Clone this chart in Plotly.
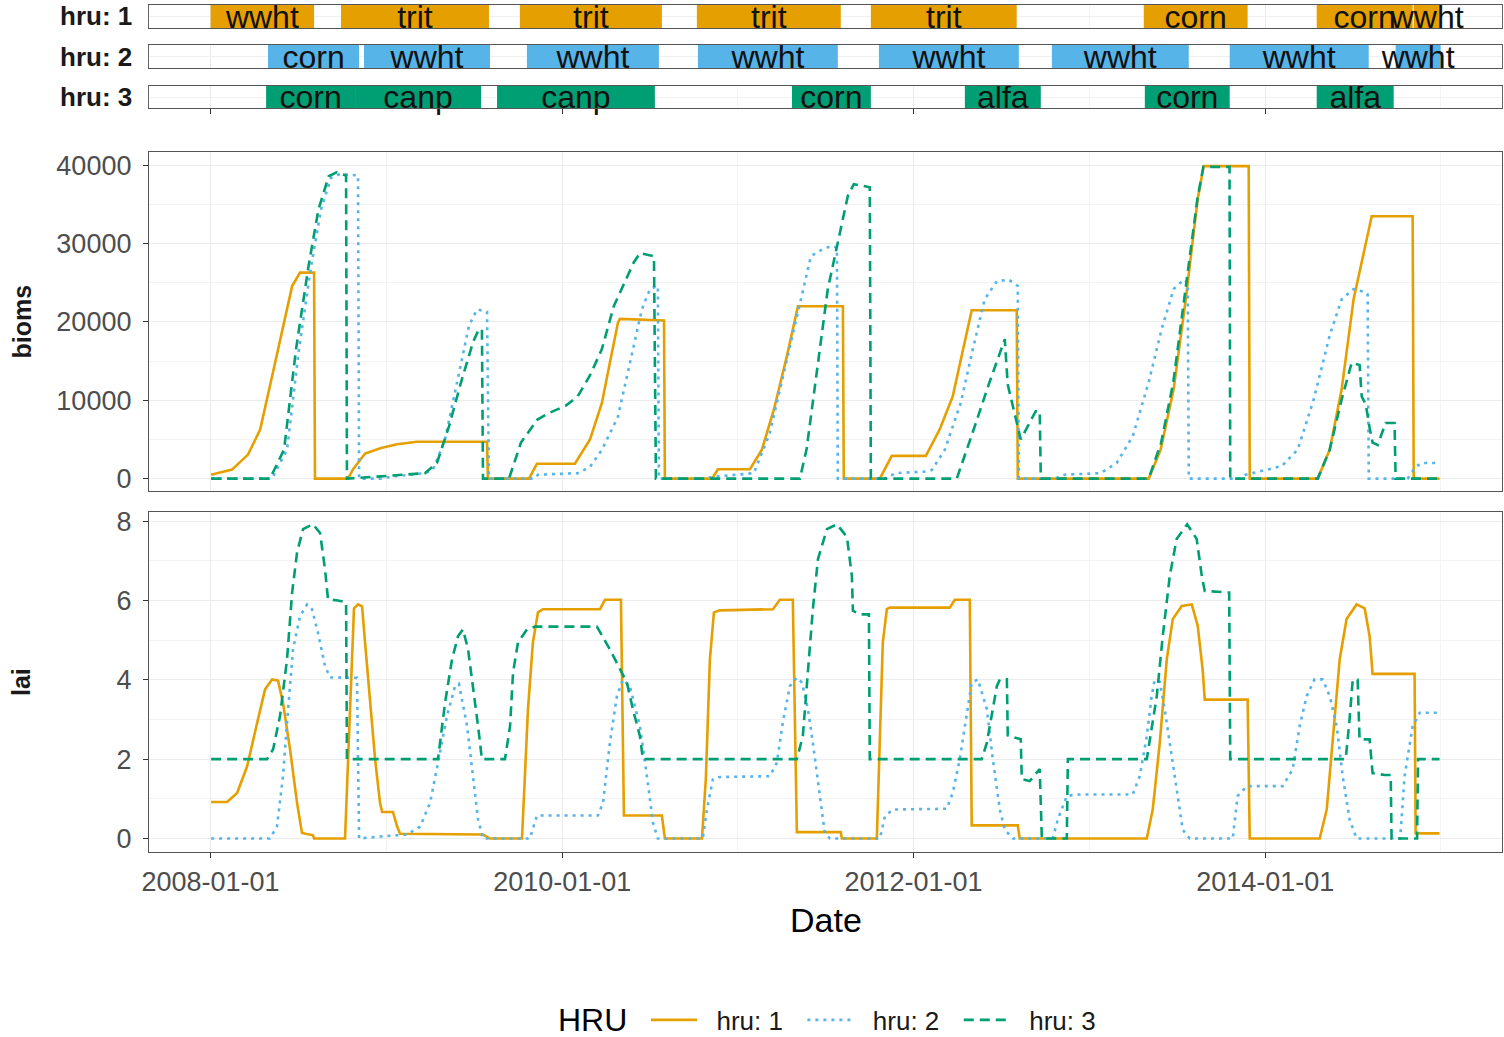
import pandas as pd
import plotly.graph_objects as go

# ---------------- data (dates as decimal years) ----------------
hru1_crop  = ["wwht", "trit", "trit", "trit", "trit", "corn", "corn", "wwht"]
hru1_start = [2008.000, 2008.742, 2009.760, 2010.767, 2011.757, 2013.310, 2014.294, 2014.846]
hru1_end   = [2008.589, 2009.584, 2010.568, 2011.586, 2012.587, 2013.901, 2014.840, 2014.999]

hru2_crop  = ["corn", "wwht", "wwht", "wwht", "wwht", "wwht", "wwht", "wwht"]
hru2_start = [2008.327, 2008.873, 2009.800, 2010.773, 2011.803, 2012.787, 2013.799, 2014.743]
hru2_end   = [2008.845, 2009.590, 2010.551, 2011.569, 2012.599, 2013.566, 2014.590, 2014.999]

hru3_crop  = ["corn", "canp", "canp", "corn", "alfa", "corn", "alfa"]
hru3_start = [2008.316, 2008.822, 2009.630, 2011.308, 2012.292, 2013.316, 2014.294]
hru3_end   = [2008.822, 2009.539, 2010.528, 2011.757, 2012.724, 2013.799, 2014.732]

hru1_bioms_t = [2008.003, 2008.122, 2008.213, 2008.282, 2008.350, 2008.418, 2008.464, 2008.509, 2008.589, 2008.594,
                2008.782, 2008.811, 2008.879, 2008.970, 2009.061, 2009.175, 2009.573, 2009.578,
                2009.812, 2009.857, 2010.073, 2010.159, 2010.227, 2010.272, 2010.318, 2010.329, 2010.580, 2010.585,
                2010.853, 2010.887, 2011.069, 2011.137, 2011.205, 2011.279, 2011.342, 2011.598, 2011.603,
                2011.808, 2011.876, 2012.070, 2012.149, 2012.223, 2012.280, 2012.331, 2012.587, 2012.593,
                2013.338, 2013.406, 2013.480, 2013.549, 2013.617, 2013.651, 2013.907, 2013.913,
                2014.300, 2014.368, 2014.436, 2014.504, 2014.607, 2014.840, 2014.846, 2014.993]
hru1_bioms = [500, 1150, 3070, 6260, 13070, 19900, 24580, 26300, 26300, 0,
              0, 1200, 3200, 3900, 4400, 4700, 4700, 0,
              0, 1900, 1900, 5000, 9700, 14800, 19900, 20400, 20200, 0,
              0, 1200, 1200, 3700, 8800, 15600, 22000, 22000, 0,
              0, 2900, 2900, 6300, 10500, 16500, 21500, 21500, 0,
              0, 3700, 11400, 22900, 35700, 39900, 39900, 0,
              0, 3700, 11400, 22900, 33500, 33500, 0, 0]

hru2_bioms_t = [2008.003, 2008.350, 2008.435, 2008.503, 2008.572, 2008.629, 2008.685, 2008.737, 2008.839, 2008.845,
                2008.964, 2009.049, 2009.220, 2009.266, 2009.334, 2009.402, 2009.470, 2009.516, 2009.573, 2009.584,
                2009.840, 2009.863, 2010.090, 2010.159, 2010.227, 2010.318, 2010.386, 2010.454, 2010.500, 2010.545, 2010.551,
                2010.784, 2010.898, 2011.091, 2011.182, 2011.279, 2011.347, 2011.416, 2011.484, 2011.535, 2011.564, 2011.569,
                2011.837, 2011.899, 2012.064, 2012.104, 2012.178, 2012.269, 2012.337, 2012.405, 2012.474, 2012.542, 2012.593, 2012.599,
                2012.804, 2012.860, 2013.065, 2013.156, 2013.247, 2013.338, 2013.412, 2013.480, 2013.537, 2013.560, 2013.566,
                2013.856, 2013.890, 2013.981, 2014.095, 2014.186, 2014.277, 2014.368, 2014.436, 2014.504, 2014.573, 2014.584, 2014.590,
                2014.811, 2014.857, 2014.891, 2014.993]
hru2_bioms = [0, 0, 3700, 16500, 27100, 34400, 38400, 38900, 38700, 0,
              0, 300, 700, 1150, 5000, 12300, 19500, 21600, 21300, 0,
              0, 500, 700, 1500, 3700, 7900, 14800, 21600, 24200, 24600, 0,
              0, 300, 700, 5800, 15300, 21600, 28400, 29300, 29700, 29500, 0,
              0, 700, 900, 1100, 3700, 9700, 16500, 22900, 25200, 25400, 24600, 0,
              0, 500, 700, 2000, 5400, 12300, 19100, 24200, 25400, 25000, 0,
              0, 500, 1000, 1600, 3700, 10100, 18300, 22900, 24200, 23800, 23500, 0,
              0, 1500, 2000, 2000]

hru3_bioms_t = [2008.003, 2008.338, 2008.418, 2008.486, 2008.557, 2008.614, 2008.672, 2008.717, 2008.771, 2008.776,
                2009.038, 2009.220, 2009.288, 2009.357, 2009.425, 2009.493, 2009.527, 2009.544, 2009.550,
                2009.698, 2009.766, 2009.860, 2009.928, 2010.020, 2010.089, 2010.157, 2010.226, 2010.294, 2010.363,
                2010.408, 2010.443, 2010.523, 2010.534,
                2011.353, 2011.391, 2011.459, 2011.512, 2011.581, 2011.626, 2011.660, 2011.717, 2011.751, 2011.757,
                2012.246, 2012.335, 2012.426, 2012.519, 2012.536, 2012.610, 2012.695, 2012.718, 2012.724,
                2013.338, 2013.409, 2013.478, 2013.546, 2013.615, 2013.649, 2013.798, 2013.802,
                2014.300, 2014.368, 2014.436, 2014.493, 2014.538, 2014.550, 2014.573, 2014.595, 2014.612, 2014.641,
                2014.686, 2014.737, 2014.743, 2014.993]
hru3_bioms = [0, 0, 3700, 16500, 27100, 34400, 38600, 39100, 38700, 0,
              400, 700, 2000, 6700, 12300, 17400, 19100, 19000, 0,
              0, 4600, 7550, 8400, 9300, 10500, 13100, 16500, 22000, 25400,
              27600, 28800, 28400, 0,
              0, 3700, 15300, 24200, 31400, 36100, 37600, 37400, 37200, 0,
              0, 5800, 11900, 17800, 12000, 5000, 8600, 8600, 0,
              0, 4600, 12300, 23800, 35700, 39800, 39800, 0,
              0, 3700, 10100, 14800, 14500, 10500, 9500, 6500, 4600, 4300,
              7100, 7100, 0, 0]

hru1_lai_t = [2008.003, 2008.094, 2008.151, 2008.208, 2008.265, 2008.310, 2008.350, 2008.384, 2008.412, 2008.452,
              2008.492, 2008.520, 2008.583, 2008.589, 2008.765, 2008.788, 2008.816, 2008.839, 2008.862, 2008.879,
              2008.907, 2008.936, 2008.964, 2008.976, 2009.038, 2009.061, 2009.078, 2009.550, 2009.590, 2009.772,
              2009.806, 2009.834, 2009.863, 2009.891, 2010.216, 2010.244, 2010.335, 2010.352, 2010.568, 2010.585,
              2010.796, 2010.818, 2010.841, 2010.864, 2010.898, 2011.200, 2011.239, 2011.313, 2011.336, 2011.586,
              2011.592, 2011.791, 2011.825, 2011.848, 2011.865, 2012.206, 2012.235, 2012.320, 2012.331, 2012.593,
              2012.604, 2013.327, 2013.361, 2013.401, 2013.441, 2013.475, 2013.526, 2013.583, 2013.617, 2013.645,
              2013.657, 2013.901, 2013.913, 2014.311, 2014.351, 2014.385, 2014.425, 2014.464, 2014.521, 2014.567,
              2014.595, 2014.612, 2014.851, 2014.857, 2014.993]
hru1_lai = [0.92, 0.92, 1.15, 1.82, 2.92, 3.76, 4.01, 3.98, 3.42, 2.25,
            0.9, 0.14, 0.08, 0.0, 0.0, 2.5, 5.8, 5.9, 5.85, 4.94,
            3.59, 2.0, 0.9, 0.67, 0.67, 0.31, 0.12, 0.1, 0.0, 0.0,
            3.26, 4.94, 5.7, 5.78, 5.78, 6.02, 6.02, 0.58, 0.58, 0.0,
            0.0, 1.5, 4.5, 5.7, 5.75, 5.78, 6.02, 6.02, 0.16, 0.16,
            0.0, 0.0, 4.94, 5.78, 5.82, 5.82, 6.02, 6.02, 0.33, 0.33,
            0.0, 0.0, 0.73, 2.41, 4.52, 5.53, 5.86, 5.9, 5.36, 4.26,
            3.5, 3.5, 0.0, 0.0, 0.73, 2.41, 4.52, 5.53, 5.9, 5.8,
            5.1, 4.15, 4.15, 0.13, 0.13]

hru2_lai_t = [2008.003, 2008.338, 2008.378, 2008.412, 2008.441, 2008.469, 2008.509, 2008.549, 2008.577, 2008.611,
              2008.651, 2008.680, 2008.833, 2008.845, 2008.964, 2009.118, 2009.192, 2009.249, 2009.294, 2009.345,
              2009.391, 2009.413, 2009.459, 2009.493, 2009.522, 2009.550, 2009.817, 2009.857, 2010.204, 2010.233,
              2010.272, 2010.312, 2010.346, 2010.386, 2010.443, 2010.483, 2010.517, 2010.545, 2010.801, 2010.824,
              2010.858, 2010.898, 2011.182, 2011.222, 2011.256, 2011.296, 2011.336, 2011.365, 2011.399, 2011.427,
              2011.467, 2011.495, 2011.524, 2011.808, 2011.837, 2011.882, 2012.189, 2012.223, 2012.263, 2012.303,
              2012.331, 2012.366, 2012.417, 2012.451, 2012.491, 2012.519, 2012.565, 2012.792, 2012.821, 2012.872,
              2012.929, 2013.247, 2013.287, 2013.327, 2013.355, 2013.372, 2013.401, 2013.429, 2013.458, 2013.497,
              2013.532, 2013.571, 2013.816, 2013.844, 2013.896, 2014.100, 2014.157, 2014.197, 2014.237, 2014.282,
              2014.328, 2014.368, 2014.408, 2014.442, 2014.481, 2014.521, 2014.769, 2014.794, 2014.840, 2014.880,
              2014.993]
hru2_lai = [0.0, 0.0, 0.31, 1.57, 3.26, 4.77, 5.61, 5.9, 5.78, 5.19,
            4.35, 4.06, 4.05, 0.0, 0.05, 0.1, 0.3, 0.9, 1.91, 3.09,
            3.84, 3.9, 2.85, 1.57, 0.48, 0.0, 0.0, 0.58, 0.58, 0.9,
            2.41, 3.59, 4.01, 3.84, 2.83, 1.57, 0.4, 0.0, 0.0, 0.73,
            1.49, 1.55, 1.57, 1.91, 2.92, 3.84, 4.06, 3.93, 3.26, 2.41,
            1.15, 0.14, 0.0, 0.0, 0.56, 0.73, 0.75, 1.15, 2.0, 3.09,
            3.93, 4.01, 3.26, 2.0, 0.73, 0.22, 0.0, 0.0, 0.48, 1.07,
            1.11, 1.11, 1.57, 2.58, 3.59, 4.0, 3.95, 3.26, 2.41, 1.15,
            0.22, 0.0, 0.0, 1.07, 1.32, 1.32, 1.74, 2.83, 3.59, 4.01,
            4.01, 3.59, 2.83, 1.57, 0.48, 0.0, 0.0, 1.57, 2.83, 3.17,
            3.17]

hru3_lai_t = [2008.003, 2008.321, 2008.356, 2008.395, 2008.435, 2008.464, 2008.492, 2008.526, 2008.583, 2008.623,
              2008.651, 2008.668, 2008.725, 2008.771, 2008.776, 2009.294, 2009.334, 2009.374, 2009.408, 2009.436,
              2009.465, 2009.493, 2009.522, 2009.544, 2009.675, 2009.704, 2009.721, 2009.749, 2009.800, 2009.846,
              2010.198, 2010.272, 2010.329, 2010.369, 2010.403, 2010.443, 2010.460, 2011.336, 2011.370, 2011.399,
              2011.427, 2011.456, 2011.507, 2011.564, 2011.621, 2011.649, 2011.655, 2011.694, 2011.746, 2011.751,
              2012.388, 2012.417, 2012.445, 2012.474, 2012.491, 2012.531, 2012.536, 2012.610, 2012.616, 2012.661,
              2012.718, 2012.730, 2012.872, 2012.878, 2013.327, 2013.384, 2013.418, 2013.458, 2013.497, 2013.557,
              2013.611, 2013.640, 2013.657, 2013.796, 2013.802, 2014.459, 2014.481, 2014.499, 2014.527, 2014.538,
              2014.595, 2014.612, 2014.681, 2014.715, 2014.720, 2014.865, 2014.871, 2014.993]
hru3_lai = [2.0, 2.0, 2.25, 3.09, 4.52, 6.2, 7.21, 7.8, 7.92, 7.7,
            6.79, 6.03, 6.0, 5.95, 2.0, 2.0, 3.42, 4.52, 5.1, 5.27,
            4.77, 3.84, 2.83, 2.0, 2.0, 2.83, 4.18, 4.94, 5.27, 5.34,
            5.34, 4.77, 4.27, 3.93, 3.26, 2.58, 2.0, 2.0, 2.58, 4.18,
            5.78, 7.04, 7.8, 7.92, 7.6, 6.62, 5.74, 5.65, 5.65, 2.0,
            2.0, 2.41, 3.09, 3.84, 4.01, 4.01, 2.6, 2.5, 1.5, 1.45,
            1.75, 0.0, 0.0, 2.0, 2.0, 3.59, 5.1, 6.62, 7.55, 7.92,
            7.55, 6.62, 6.24, 6.2, 2.0, 2.0, 3.0, 4.0, 4.0, 2.5,
            2.5, 1.65, 1.6, 1.6, 0.0, 0.0, 2.0, 2.0]

hru_names = ["hru: 1", "hru: 2", "hru: 3"]
major_ticks = ["2008-01-01", "2010-01-01", "2012-01-01", "2014-01-01"]
minor_ticks = ["2009-01-01", "2011-01-01", "2013-01-01", "2015-01-01"]
bioms_ticks = [0, 10000, 20000, 30000, 40000]
lai_ticks = [0, 2, 4, 6, 8]

# ---------------- helpers ----------------
BASE = pd.Timestamp("2008-01-01")


def yr2date(values):
    return [BASE + pd.Timedelta(days=(v - 2008.0) * 365.25) for v in values]


FONT = "Liberation Sans, Arial, sans-serif"
W, H = 1504, 1037
COLORS = ["#E69F00", "#56B4E9", "#009E73"]
DASHES = ["solid", "3px,5px", "10px,6px"]
LW = 2.6
NB = "\u00a0"


def ydom(top, bottom):
    return [1 - bottom / H, 1 - top / H]


XDOM = [149 / W, 1502 / W]
XRANGE = ["2007-08-26", "2015-05-08"]

fig = go.Figure()

# ---------------- crop strips ----------------
strips = [(hru1_crop, hru1_start, hru1_end), (hru2_crop, hru2_start, hru2_end), (hru3_crop, hru3_start, hru3_end)]
shapes = []
for i, (crop, st, en) in enumerate(strips):
    ax = "" if i == 0 else str(i + 1)
    for s, e in zip(yr2date(st), yr2date(en)):
        shapes.append(dict(type="rect", xref="x" + ax, yref="y" + ax, x0=s, x1=e, y0=0, y1=1,
                           fillcolor=COLORS[i], line=dict(width=0), layer="between"))
    mids = [(a + b) / 2 for a, b in zip(st, en)]
    fig.add_trace(go.Scatter(x=yr2date(mids), y=[0.36] * len(mids), text=crop, mode="text",
                             textposition="middle center", cliponaxis=False,
                             textfont=dict(family=FONT, size=32, color="#111111"),
                             xaxis="x" + ax, yaxis="y" + ax, showlegend=False, hoverinfo="skip"))

# ---------------- series ----------------
series_b = [(hru1_bioms_t, hru1_bioms), (hru2_bioms_t, hru2_bioms), (hru3_bioms_t, hru3_bioms)]
series_l = [(hru1_lai_t, hru1_lai), (hru2_lai_t, hru2_lai), (hru3_lai_t, hru3_lai)]
for i in range(3):
    t, v = series_b[i]
    fig.add_trace(go.Scatter(x=yr2date(t), y=v, mode="lines", name=NB * 2 + hru_names[i] + NB * 2,
                             legendgroup=hru_names[i],
                             line=dict(color=COLORS[i], width=LW, dash=DASHES[i]),
                             xaxis="x4", yaxis="y4", showlegend=True))
for i in range(3):
    t, v = series_l[i]
    fig.add_trace(go.Scatter(x=yr2date(t), y=v, mode="lines", name=hru_names[i], legendgroup=hru_names[i],
                             line=dict(color=COLORS[i], width=LW, dash=DASHES[i]),
                             xaxis="x5", yaxis="y5", showlegend=False))

# ---------------- axes ----------------
def xaxis(anchor, ticks=False, labels=False):
    d = dict(type="date", range=XRANGE, domain=XDOM, anchor=anchor, automargin=False,
             tickmode="array", tickvals=major_ticks, showgrid=True, gridcolor="#EBEBEB", gridwidth=1.3,
             minor=dict(tickmode="array", tickvals=minor_ticks, showgrid=True, gridcolor="#F3F3F3", gridwidth=0.7),
             showline=True, mirror=True, linecolor="#555555", linewidth=1.3, zeroline=False,
             showticklabels=labels, ticks="outside" if ticks else "", ticklen=5, tickcolor="#333333",
             tickformat="%Y-%m-%d", tickfont=dict(family=FONT, size=27, color="#4D4D4D"))
    if labels:
        d["ticklabelstandoff"] = 0
    return d


def ystrip(dom, anchor):
    return dict(domain=dom, anchor=anchor, range=[0, 1], tickmode="array", tickvals=[0.5], automargin=False,
                showgrid=True, gridcolor="#F0F0F0", gridwidth=1, showticklabels=False, ticks="",
                showline=True, mirror=True, linecolor="#666666", linewidth=1.2, zeroline=False, fixedrange=True)


def ypanel(dom, anchor, rng, tv, minor_tv):
    return dict(domain=dom, anchor=anchor, range=rng, tickmode="array", tickvals=tv, tickformat="d",
                automargin=False,
                showgrid=True, gridcolor="#EBEBEB", gridwidth=1.3,
                minor=dict(tickmode="array", tickvals=minor_tv, showgrid=True, gridcolor="#F3F3F3", gridwidth=0.7),
                showline=True, mirror=True, linecolor="#555555", linewidth=1.3, zeroline=False,
                ticks="outside", ticklen=5, tickcolor="#333333", ticklabelstandoff=6,
                tickfont=dict(family=FONT, size=27, color="#4D4D4D"))


layout = dict(
    width=W, height=H, margin=dict(l=0, r=0, t=0, b=0, autoexpand=False),
    paper_bgcolor="white", plot_bgcolor="white",
    font=dict(family=FONT, color="#1A1A1A"),
    xaxis=xaxis("y"), xaxis2=xaxis("y2"), xaxis3=xaxis("y3", ticks=True),
    xaxis4=xaxis("y4"), xaxis5=xaxis("y5", ticks=True, labels=True),
    yaxis=ystrip(ydom(5, 28), "x"), yaxis2=ystrip(ydom(45, 68), "x2"), yaxis3=ystrip(ydom(86, 108), "x3"),
    yaxis4=ypanel(ydom(152, 491), "x4", [-1580, 41700], bioms_ticks, [5000, 15000, 25000, 35000]),
    yaxis5=ypanel(ydom(512, 852), "x5", [-0.34, 8.23], lai_ticks, [1, 3, 5, 7]),
    shapes=shapes,
    showlegend=True,
    legend=dict(orientation="h", x=646 / W, xanchor="left", y=1 - 1020 / H, yanchor="middle",
                font=dict(family=FONT, size=26, color="#1A1A1A"),
                itemwidth=46, bgcolor="rgba(0,0,0,0)", traceorder="normal"),
)
fig.update_layout(layout)

annotations = []
for i, (top, bot) in enumerate([(5, 28), (45, 68), (86, 108)]):
    annotations.append(dict(text="<b>" + hru_names[i] + "</b>", xref="paper", yref="paper", x=134 / W,
                            y=1 - (top + bot) / 2 / H, xanchor="right", yanchor="middle", showarrow=False,
                            font=dict(family=FONT, size=26, color="#1A1A1A")))
annotations.append(dict(text="<b>bioms</b>", xref="paper", yref="paper", x=21 / W, y=1 - 321.5 / H,
                        textangle=-90, xanchor="center", yanchor="middle", showarrow=False,
                        font=dict(family=FONT, size=25, color="#1A1A1A")))
annotations.append(dict(text="<b>lai</b>", xref="paper", yref="paper", x=21 / W, y=1 - 682 / H,
                        textangle=-90, xanchor="center", yanchor="middle", showarrow=False,
                        font=dict(family=FONT, size=25, color="#1A1A1A")))
annotations.append(dict(text="Date", xref="paper", yref="paper", x=825.5 / W, y=1 - 920 / H,
                        xanchor="center", yanchor="middle", showarrow=False,
                        font=dict(family=FONT, size=34, color="#000000")))
annotations.append(dict(text="HRU", xref="paper", yref="paper", x=592 / W, y=1 - 1020 / H,
                        xanchor="center", yanchor="middle", showarrow=False,
                        font=dict(family=FONT, size=32, color="#000000")))
fig.update_layout(annotations=annotations)

fig.write_html("out.html")
